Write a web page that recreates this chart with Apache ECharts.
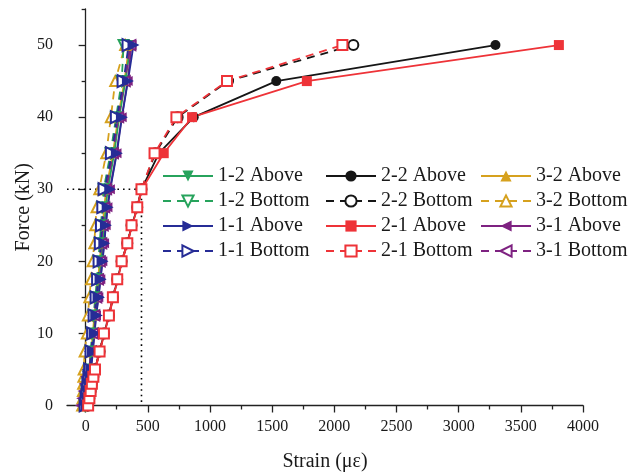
<!DOCTYPE html>
<html><head><meta charset="utf-8">
<script src="https://cdn.jsdelivr.net/npm/echarts@6/dist/echarts.min.js"></script>
<style>html,body{margin:0;padding:0;background:#fff}#c{width:635px;height:472px}</style>
</head><body><div id="c"></div>
<script>
// Force levels (kN)
const forces = [0, 1, 2, 3, 4, 5, 7.5, 10, 12.5, 15, 17.5, 20, 22.5, 25, 27.5, 30, 35, 40, 45, 50];
// Strains (microstrain) per series
const s12Above  = [2, 10, 17, 25, 32, 40, 52, 65, 78, 95, 110, 124, 137, 150, 162, 178, 230, 270, 320, 360];
const s12Bottom = [-5, 3, 10, 17, 24, 30, 40, 52, 63, 78, 90, 102, 113, 123, 133, 145, 200, 245, 290, 305];
const s11Above  = [8, 15, 22, 30, 38, 45, 58, 72, 85, 104, 120, 136, 150, 163, 177, 198, 251, 292, 340, 385];
const s11Bottom = [0, 8, 15, 22, 30, 36, 47, 60, 72, 88, 100, 112, 122, 131, 142, 152, 211, 251, 305, 345];
const s22Above  = [20, 30, 41, 51, 63, 76, 113, 148, 188, 221, 256, 291, 336, 371, 417, 450, 590, 869, 1533, 3296];
const s22Bottom = [20, 30, 40, 50, 62, 75, 112, 147, 187, 219, 254, 289, 335, 369, 415, 449, 560, 740, 1145, 2153];
const s21Above  = [22, 32, 43, 53, 65, 78, 115, 150, 190, 223, 258, 293, 338, 373, 419, 452, 628, 856, 1779, 3806];
const s21Bottom = [20, 30, 40, 50, 62, 75, 112, 147, 187, 219, 254, 289, 335, 369, 415, 449, 554, 730, 1137, 2065];
const s32Above  = [0, 7, 14, 21, 28, 35, 46, 58, 70, 86, 100, 113, 126, 138, 150, 165, 220, 262, 312, 350];
const s32Bottom = [-28, -25, -22, -20, -18, -16, -8, 10, 18, 30, 43, 56, 70, 78, 88, 110, 166, 203, 238, 318];
const s31Above  = [-25, -10, 0, 10, 25, 40, 55, 70, 83, 102, 118, 134, 148, 161, 175, 195, 248, 290, 338, 369];
const s31Bottom = [-28, -18, -8, 2, 14, 28, 44, 58, 70, 86, 100, 114, 126, 138, 150, 165, 220, 262, 315, 360];
// Axis ticks
const xTicks = [0, 500, 1000, 1500, 2000, 2500, 3000, 3500, 4000];
const xMinor = [250, 750, 1250, 1750, 2250, 2750, 3250, 3750];
const yTicks = [0, 10, 20, 30, 40, 50];
const yMinor = [5, 15, 25, 35, 45, 55];
// Dotted reference line (x, y)
const refX = [-150, 449, 449];
const refY = [30, 30, 0];

const FONT = 'Liberation Serif';
const GREEN = '#27a35c', BLUE = '#262c96', BLACK = '#161616', RED = '#ee3338', GOLD = '#d6a11e', PURPLE = '#7e2281';
const pts = xs => xs.map((x, i) => [x, forces[i]]);

const defs = [
  {name: '3-2 Above',  data: s32Above,  color: GOLD,   sym: 'triangle', rot: 0,   dash: false, size: 10},
  {name: '3-2 Bottom', data: s32Bottom, color: GOLD,   sym: 'triangle', rot: 0,   dash: true,  size: 10},
  {name: '1-2 Above',  data: s12Above,  color: GREEN,  sym: 'triangle', rot: 180, dash: false, size: 10},
  {name: '1-2 Bottom', data: s12Bottom, color: GREEN,  sym: 'triangle', rot: 180, dash: true,  size: 10},
  {name: '3-1 Above',  data: s31Above,  color: PURPLE, sym: 'triangle', rot: 90,  dash: false, size: 10},
  {name: '3-1 Bottom', data: s31Bottom, color: PURPLE, sym: 'triangle', rot: 90,  dash: true,  size: 10},
  {name: '1-1 Bottom', data: s11Bottom, color: BLUE,   sym: 'triangle', rot: -90, dash: true,  size: 12},
  {name: '1-1 Above',  data: s11Above,  color: BLUE,   sym: 'triangle', rot: -90, dash: false, size: 12},
  {name: '2-2 Above',  data: s22Above,  color: BLACK,  sym: 'circle',   rot: 0,   dash: false, size: 10},
  {name: '2-2 Bottom', data: s22Bottom, color: BLACK,  sym: 'circle',   rot: 0,   dash: true,  size: 10},
  {name: '2-1 Above',  data: s21Above,  color: RED,    sym: 'rect',     rot: 0,   dash: false, size: 10},
  {name: '2-1 Bottom', data: s21Bottom, color: RED,    sym: 'rect',     rot: 0,   dash: true,  size: 10}
];

const series = defs.map(d => ({
  type: 'line', name: d.name, data: pts(d.data),
  xAxisIndex: 0, yAxisIndex: 0,
  symbol: d.dash ? 'empty' + d.sym.charAt(0).toUpperCase() + d.sym.slice(1) : d.sym,
  symbolRotate: d.rot, symbolSize: d.size,
  showAllSymbol: true,
  lineStyle: {color: d.color, width: 1.8, type: d.dash ? [8, 6] : 'solid'},
  itemStyle: {color: d.color, borderColor: d.color, borderWidth: d.dash ? 1.4 : 0},
  emphasis: {disabled: true}, animation: false
}));
series.unshift({
  type: 'line', name: 'ref', data: refX.map((x, i) => [x, refY[i]]),
  xAxisIndex: 0, yAxisIndex: 0, symbol: 'none', silent: true, z: 1,
  lineStyle: {color: '#000', width: 1.6, type: [1.6, 4]}, animation: false
});

const legendBase = {
  orient: 'vertical', top: 166, itemWidth: 50, itemHeight: 14, itemGap: 5, padding: 0,
  selectedMode: false,
  textStyle: {fontFamily: FONT, fontSize: 20, color: '#1a1a1a'}
};

const axisTxt = {fontFamily: FONT, fontSize: 16, color: '#1a1a1a'};
const gridBox = {left: 67, right: 52, top: 9, bottom: 66.5, outerBoundsMode: 'none', containLabel: false};

const option = {
  backgroundColor: '#fff',
  animation: false,
  grid: [Object.assign({}, gridBox), Object.assign({}, gridBox)],
  legend: [
    Object.assign({}, legendBase, {left: 162, data: ['1-2 Above', '1-2 Bottom', '1-1 Above', '1-1 Bottom']}),
    Object.assign({}, legendBase, {left: 325, data: ['2-2 Above', '2-2 Bottom', '2-1 Above', '2-1 Bottom']}),
    Object.assign({}, legendBase, {left: 480, data: ['3-2 Above', '3-2 Bottom', '3-1 Above', '3-1 Bottom']})
  ],
  xAxis: [{
    type: 'value', gridIndex: 0, min: -150, max: 4000,
    name: 'Strain (\u03bc\u03b5)', nameLocation: 'middle', nameGap: 46, nameMoveOverlap: false,
    nameTextStyle: {fontFamily: FONT, fontSize: 20, color: '#1a1a1a'},
    axisLine: {show: true, lineStyle: {color: '#222', width: 1.3}},
    axisTick: {show: true, inside: false, length: 7, customValues: xTicks, lineStyle: {color: '#222', width: 1.3}},
    axisLabel: Object.assign({margin: 13, customValues: xTicks, formatter: v => String(v)}, axisTxt),
    splitLine: {show: false}
  }, {
    type: 'value', gridIndex: 1, min: -150, max: 4000,
    axisLine: {show: false},
    axisTick: {show: true, length: 4, customValues: xMinor, lineStyle: {color: '#222', width: 1.3}},
    axisLabel: {show: false}, splitLine: {show: false}
  }],
  yAxis: [{
    type: 'value', gridIndex: 0, min: 0, max: 55,
    name: 'Force (kN)', nameLocation: 'middle', nameGap: 33, nameMoveOverlap: false,
    nameTextStyle: {fontFamily: FONT, fontSize: 20, color: '#1a1a1a'},
    axisLine: {show: true, lineStyle: {color: '#222', width: 1.3}},
    axisTick: {show: true, inside: false, length: 7, customValues: yTicks, lineStyle: {color: '#222', width: 1.3}},
    axisLabel: Object.assign({margin: 14, customValues: yTicks, formatter: v => String(v)}, axisTxt),
    splitLine: {show: false}
  }, {
    type: 'value', gridIndex: 1, min: 0, max: 55,
    axisLine: {show: false},
    axisTick: {show: true, length: 4, customValues: yMinor, lineStyle: {color: '#222', width: 1.3}},
    axisLabel: {show: false}, splitLine: {show: false}
  }],
  series: series
};

const chart = echarts.init(document.getElementById('c'), null, {renderer: 'canvas'});
chart.setOption(option);
</script></body></html>
